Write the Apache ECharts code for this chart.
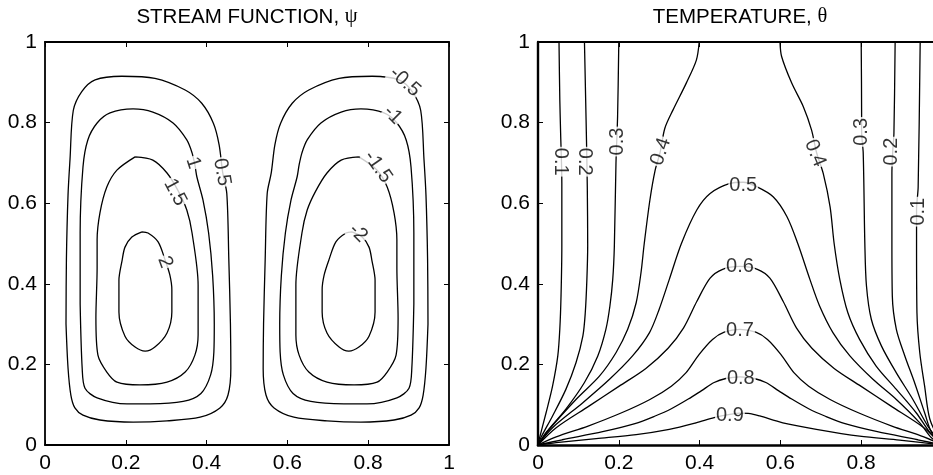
<!DOCTYPE html>
<html>
<head>
<meta charset="utf-8">
<title>Stream function and temperature</title>
<script src="https://cdn.jsdelivr.net/npm/echarts@6/dist/echarts.min.js"></script>
<style>
    html, body { margin: 0; padding: 0; background: #fff; }
    #chart { width: 933px; height: 475px; }
</style>
</head>
<body>
<div id="chart"></div>
<script>
// axis ticks (both panels)
var ticks = [0, 0.2, 0.4, 0.6, 0.8, 1];

// ---- stream function, left cell (positive) ----
var psiPos05 = [[0.052,0.30],[0.053,0.46],[0.057,0.62],[0.062,0.71],[0.070,0.83],[0.091,0.877],[0.124,0.906],[0.19,0.915],[0.272,0.91],[0.347,0.881],[0.388,0.848],[0.417,0.798],[0.431,0.745],[0.440,0.675],[0.450,0.624],[0.455,0.46],[0.459,0.30],[0.460,0.19],[0.453,0.124],[0.433,0.092],[0.384,0.069],[0.302,0.060],[0.218,0.057],[0.136,0.062],[0.094,0.074],[0.074,0.092],[0.064,0.124],[0.057,0.191],[0.052,0.30]];
var psiPos10 = [[0.087,0.35],[0.087,0.526],[0.094,0.690],[0.106,0.757],[0.129,0.799],[0.161,0.824],[0.218,0.834],[0.267,0.826],[0.317,0.799],[0.351,0.757],[0.364,0.725],[0.371,0.695],[0.376,0.665],[0.391,0.608],[0.405,0.526],[0.415,0.42],[0.419,0.30],[0.418,0.231],[0.410,0.174],[0.386,0.128],[0.342,0.108],[0.260,0.102],[0.203,0.102],[0.129,0.117],[0.099,0.141],[0.092,0.191],[0.087,0.35]];
var psiPos15 = [[0.223,0.715],[0.267,0.707],[0.302,0.675],[0.330,0.630],[0.351,0.583],[0.364,0.526],[0.379,0.397],[0.379,0.273],[0.371,0.223],[0.347,0.181],[0.302,0.156],[0.235,0.149],[0.178,0.156],[0.153,0.181],[0.131,0.223],[0.126,0.315],[0.129,0.439],[0.129,0.509],[0.136,0.576],[0.153,0.640],[0.178,0.682],[0.223,0.715]];
var psiPos20 = [[0.240,0.529],[0.255,0.526],[0.280,0.504],[0.297,0.46],[0.309,0.422],[0.314,0.385],[0.314,0.330],[0.302,0.278],[0.272,0.243],[0.248,0.233],[0.223,0.243],[0.198,0.270],[0.183,0.330],[0.183,0.409],[0.191,0.459],[0.198,0.491],[0.215,0.516],[0.240,0.529]];

// ---- stream function, right cell (negative) ----
var psiNeg05 = [[0.948,0.30],[0.947,0.46],[0.943,0.62],[0.938,0.71],[0.930,0.83],[0.909,0.877],[0.876,0.906],[0.81,0.915],[0.728,0.91],[0.653,0.881],[0.612,0.848],[0.583,0.798],[0.569,0.745],[0.560,0.675],[0.550,0.624],[0.545,0.46],[0.541,0.30],[0.540,0.19],[0.547,0.124],[0.567,0.092],[0.616,0.069],[0.698,0.060],[0.782,0.057],[0.864,0.062],[0.906,0.074],[0.926,0.092],[0.936,0.124],[0.943,0.191],[0.948,0.30]];
var psiNeg10 = [[0.913,0.35],[0.913,0.526],[0.906,0.690],[0.894,0.757],[0.871,0.799],[0.839,0.824],[0.782,0.834],[0.733,0.826],[0.683,0.799],[0.649,0.757],[0.636,0.725],[0.629,0.695],[0.624,0.665],[0.609,0.608],[0.595,0.526],[0.585,0.42],[0.581,0.30],[0.582,0.231],[0.590,0.174],[0.614,0.128],[0.658,0.108],[0.740,0.102],[0.797,0.102],[0.871,0.117],[0.901,0.141],[0.908,0.191],[0.913,0.35]];
var psiNeg15 = [[0.777,0.715],[0.733,0.707],[0.698,0.675],[0.670,0.630],[0.649,0.583],[0.636,0.526],[0.621,0.397],[0.621,0.273],[0.629,0.223],[0.653,0.181],[0.698,0.156],[0.765,0.149],[0.822,0.156],[0.847,0.181],[0.869,0.223],[0.874,0.315],[0.871,0.439],[0.871,0.509],[0.864,0.576],[0.847,0.640],[0.822,0.682],[0.777,0.715]];
var psiNeg20 = [[0.760,0.529],[0.745,0.526],[0.720,0.504],[0.703,0.46],[0.691,0.422],[0.686,0.385],[0.686,0.330],[0.698,0.278],[0.728,0.243],[0.752,0.233],[0.777,0.243],[0.802,0.270],[0.817,0.330],[0.817,0.409],[0.809,0.459],[0.802,0.491],[0.785,0.516],[0.760,0.529]];

var psiLabelText  = ['0.5', '1', '1.5', '2', '-0.5', '-1', '-1.5', '-2'];
var psiLabelAt    = [[0.438,0.677],[0.367,0.700],[0.322,0.627],[0.297,0.454],[0.891,0.901],[0.861,0.819],[0.824,0.690],[0.775,0.526]];
var psiLabelAngle = [-80, -72, -62, -70, -42, -45, -55, -45];

// ---- temperature ----
var t01L = [[0,0],[0.005,0.022],[0.020,0.080],[0.036,0.146],[0.049,0.221],[0.054,0.288],[0.057,0.370],[0.059,0.494],[0.059,0.650],[0.056,0.774],[0.054,0.856],[0.052,1.0]];
var t02L = [[0,0],[0.007,0.018],[0.036,0.072],[0.069,0.138],[0.094,0.204],[0.111,0.270],[0.117,0.328],[0.121,0.411],[0.123,0.494],[0.122,0.641],[0.120,0.757],[0.118,0.856],[0.115,1.0]];
var t03L = [[0,0],[0.020,0.031],[0.069,0.089],[0.115,0.155],[0.148,0.221],[0.168,0.287],[0.178,0.345],[0.185,0.411],[0.189,0.494],[0.193,0.699],[0.197,0.815],[0.200,1.0]];
var t04L = [[0,0],[0.028,0.039],[0.094,0.113],[0.152,0.171],[0.193,0.229],[0.222,0.287],[0.243,0.353],[0.255,0.428],[0.263,0.50],[0.277,0.608],[0.290,0.682],[0.302,0.725],[0.314,0.786],[0.334,0.831],[0.367,0.898],[0.392,0.955],[0.399,1.0]];
var t04R = [[0.599,1.0],[0.603,0.964],[0.628,0.898],[0.657,0.839],[0.677,0.782],[0.690,0.724],[0.706,0.674],[0.723,0.591],[0.733,0.50],[0.747,0.411],[0.767,0.328],[0.796,0.262],[0.837,0.196],[0.887,0.138],[0.936,0.080],[0.970,0.031],[1,0]];
var t03R = [[0.800,1.0],[0.801,0.823],[0.801,0.777],[0.805,0.724],[0.809,0.50],[0.813,0.395],[0.825,0.312],[0.850,0.246],[0.887,0.179],[0.928,0.113],[0.965,0.047],[1,0]];
var t02R = [[0.884,1.0],[0.881,0.773],[0.878,0.728],[0.876,0.674],[0.876,0.509],[0.877,0.370],[0.887,0.287],[0.908,0.221],[0.932,0.155],[0.957,0.080],[0.974,0.031],[1,0]];
var t01R = [[0.946,1.0],[0.941,0.641],[0.937,0.583],[0.937,0.509],[0.938,0.328],[0.945,0.229],[0.957,0.146],[0.970,0.064],[1,0]];
var t05 = [[0,0],[0.036,0.043],[0.111,0.105],[0.177,0.163],[0.234,0.221],[0.276,0.279],[0.300,0.337],[0.325,0.411],[0.355,0.50],[0.393,0.583],[0.426,0.624],[0.475,0.649],[0.508,0.652],[0.541,0.641],[0.582,0.616],[0.616,0.567],[0.643,0.50],[0.673,0.411],[0.697,0.345],[0.730,0.279],[0.772,0.221],[0.829,0.163],[0.887,0.113],[0.945,0.055],[0.974,0.018],[1,0]];
var t06 = [[0,0],[0.045,0.043],[0.127,0.097],[0.201,0.146],[0.267,0.190],[0.322,0.240],[0.360,0.290],[0.393,0.356],[0.426,0.414],[0.457,0.436],[0.5,0.443],[0.543,0.436],[0.574,0.414],[0.607,0.356],[0.640,0.290],[0.678,0.240],[0.733,0.190],[0.799,0.146],[0.873,0.097],[0.955,0.043],[1,0]];
var t07 = [[0,0],[0.045,0.02],[0.124,0.047],[0.207,0.080],[0.277,0.113],[0.330,0.146],[0.366,0.179],[0.399,0.225],[0.432,0.262],[0.461,0.280],[0.5,0.287],[0.539,0.280],[0.568,0.262],[0.601,0.225],[0.634,0.179],[0.670,0.146],[0.723,0.113],[0.793,0.080],[0.876,0.047],[0.955,0.02],[1,0]];
var t08 = [[0,0],[0.06,0.013],[0.16,0.033],[0.24,0.053],[0.29,0.072],[0.33,0.090],[0.372,0.114],[0.405,0.135],[0.436,0.155],[0.465,0.165],[0.5,0.169],[0.535,0.165],[0.564,0.155],[0.595,0.135],[0.628,0.114],[0.670,0.090],[0.71,0.072],[0.76,0.053],[0.84,0.033],[0.94,0.013],[1,0]];
var t09 = [[0,0],[0.045,0.006],[0.144,0.016],[0.243,0.026],[0.325,0.039],[0.391,0.055],[0.436,0.068],[0.475,0.076],[0.5,0.079],[0.525,0.078],[0.549,0.072],[0.606,0.055],[0.689,0.039],[0.796,0.022],[0.895,0.012],[1,0]];

var tLabelText  = ['0.1', '0.2', '0.3', '0.4', '0.5', '0.6', '0.7', '0.8', '0.9', '0.4', '0.3', '0.2', '0.1'];
var tLabelAt    = [[0.056,0.703],[0.116,0.703],[0.196,0.753],[0.304,0.728],[0.508,0.645],[0.5,0.442],[0.5,0.285],[0.502,0.166],[0.475,0.074],[0.686,0.724],[0.801,0.777],[0.875,0.728],[0.941,0.579]];
var tLabelAngle = [-90, -90, 90, 72, 0, 0, 0, 0, 0, -68, 90, 90, 90];

var FONT = '"Liberation Sans", Arial, Helvetica, sans-serif';

var chart = echarts.init(document.getElementById('chart'));

function axis(grid, pos, labels, w) {
    return {
        type: 'value', gridIndex: grid, position: pos,
        min: ticks[0], max: ticks[ticks.length - 1], interval: ticks[1] - ticks[0],
        axisLine: { show: true, onZero: false, lineStyle: { color: '#000', width: w } },
        axisTick: { show: true, inside: true, length: 5, lineStyle: { color: '#000', width: 1 } },
        axisLabel: { show: labels, color: '#000', fontSize: 21, fontFamily: FONT, margin: labels ? 8 : 6 },
        splitLine: { show: false }
    };
}

function contour(data, ax) {
    return {
        type: 'line', xAxisIndex: ax, yAxisIndex: ax, data: data,
        showSymbol: false, smooth: 0.3, silent: true, animation: false,
        lineStyle: { color: '#000', width: 1.3 }
    };
}

function labels(text, at, angle, ax) {
    return {
        type: 'scatter', xAxisIndex: ax, yAxisIndex: ax, z: 10,
        symbolSize: 0.1, silent: true, animation: false,
        itemStyle: { color: 'rgba(0,0,0,0)' },
        data: at.map(function (p, i) {
            return { name: text[i], value: p, label: { rotate: angle[i] } };
        }),
        label: {
            show: true, position: 'inside', formatter: '{b}',
            color: '#000', fontSize: 20, fontFamily: FONT,
            backgroundColor: '#fff', padding: [0, 1]
        }
    };
}

var series = [];
[psiPos05, psiPos10, psiPos15, psiPos20, psiNeg05, psiNeg10, psiNeg15, psiNeg20].forEach(function (d) {
    series.push(contour(d, 0));
});
[t01L, t02L, t03L, t04L, t05, t06, t07, t08, t09, t04R, t03R, t02R, t01R].forEach(function (d) {
    series.push(contour(d, 2));
});
series.push(labels(psiLabelText, psiLabelAt, psiLabelAngle, 0));
series.push(labels(tLabelText, tLabelAt, tLabelAngle, 2));

var titleRich = {
    a: { fontSize: 20.5, fontFamily: FONT, color: '#000' },
    g: { fontSize: 20.5, fontFamily: '"Liberation Serif", "DejaVu Serif", serif', color: '#000' }
};

chart.setOption({
    animation: false,
    backgroundColor: '#fff',
    grid: [
        { left: 45, top: 42, width: 404, height: 403, outerBoundsMode: 'none' },
        { left: 538, top: 42, width: 404, height: 403, outerBoundsMode: 'none' }
    ],
    xAxis: [axis(0, 'bottom', true, 1.8), axis(0, 'top', false, 1.8), axis(1, 'bottom', true, 2.6), axis(1, 'top', false, 1.8)],
    yAxis: [axis(0, 'left', true, 1.8), axis(0, 'right', false, 1.8), axis(1, 'left', true, 2.4), axis(1, 'right', false, 1.8)],
    graphic: [
        { type: 'text', x: 247, y: 17, style: { text: '{a|STREAM FUNCTION, }{g|ψ}', rich: titleRich, align: 'center', verticalAlign: 'middle', textAlign: 'center', textVerticalAlign: 'middle' } },
        { type: 'text', x: 740, y: 17, style: { text: '{a|TEMPERATURE, }{g|θ}', rich: titleRich, align: 'center', verticalAlign: 'middle', textAlign: 'center', textVerticalAlign: 'middle' } }
    ],
    series: series
});
</script>
</body>
</html>
